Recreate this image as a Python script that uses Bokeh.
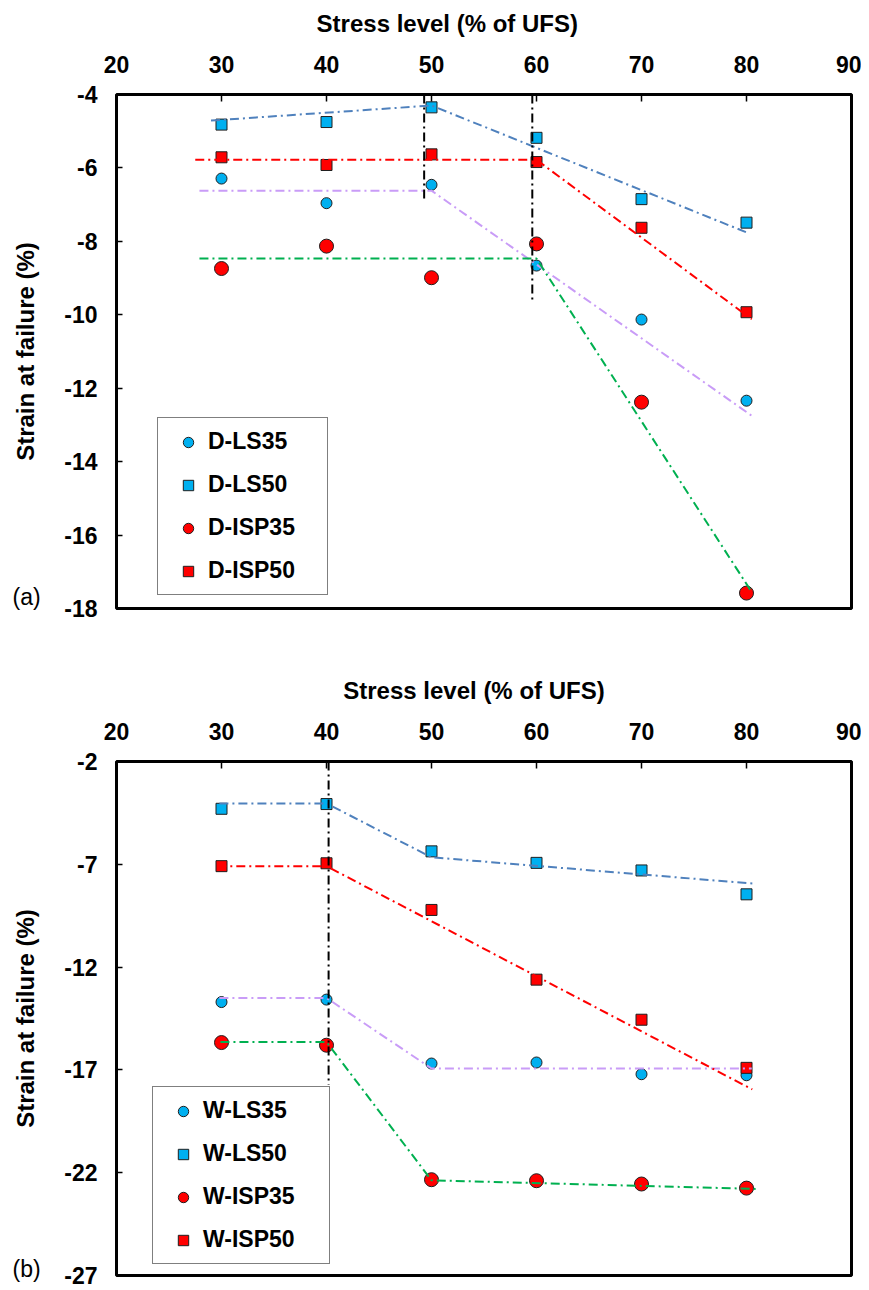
from bokeh.plotting import figure
from bokeh.models import Range1d, FixedTicker, Legend, LegendItem, Label
from bokeh.layouts import column
from bokeh.embed import file_html
from bokeh.resources import INLINE

# ---------------- data ----------------
stress = [30, 40, 50, 60, 70, 80]
x_ticks = [20, 30, 40, 50, 60, 70, 80, 90]
a_y_ticks = [-18, -16, -14, -12, -10, -8, -6, -4]
b_y_ticks = [-27, -22, -17, -12, -7, -2]

# panel (a): dry specimens
d_ls35 = [-6.29, -6.96, -6.46, -8.66, -10.13, -12.34]
d_ls50 = [-4.82, -4.75, -4.35, -5.18, -6.85, -7.49]
d_isp35 = [-8.74, -8.13, -8.99, -8.07, -12.38, -17.58]
d_isp50 = [-5.71, -5.92, -5.63, -5.84, -7.63, -9.93]

# panel (a): trend lines
d_ls35_fit_x = [27.9, 50, 80.5]
d_ls35_fit_y = [-6.62, -6.62, -12.75]
d_ls50_fit_x = [29.0, 50, 80.3]
d_ls50_fit_y = [-4.71, -4.30, -7.79]
d_isp35_fit_x = [27.9, 60, 80.4]
d_isp35_fit_y = [-8.47, -8.47, -17.51]
d_isp50_fit_x = [27.5, 60, 80.5]
d_isp50_fit_y = [-5.78, -5.78, -10.12]
a_vline_x = [49.3, 59.6]
a_vline_top = [-4.0, -4.0]
a_vline_end = [-6.93, -9.67]

# panel (b): wet specimens
w_ls35 = [-13.70, -13.58, -16.69, -16.64, -17.21, -17.26]
w_ls50 = [-4.30, -4.07, -6.37, -6.93, -7.30, -8.46]
w_isp35 = [-15.67, -15.80, -22.34, -22.39, -22.55, -22.75]
w_isp50 = [-7.09, -6.95, -9.22, -12.61, -14.56, -16.90]

# panel (b): trend lines
w_ls35_fit_x = [29.8, 40, 50, 80.5]
w_ls35_fit_y = [-13.50, -13.50, -16.93, -16.93]
w_ls50_fit_x = [29.8, 40, 50, 80.7]
w_ls50_fit_y = [-4.04, -4.04, -6.66, -7.94]
w_isp35_fit_x = [29.9, 40, 50, 81.0]
w_isp35_fit_y = [-15.64, -15.64, -22.37, -22.79]
w_isp50_fit_x = [29.6, 40, 80.55]
w_isp50_fit_y = [-7.09, -7.09, -17.95]
b_vline_x = [40.2]
b_vline_top = [-2.0]
b_vline_end = [-17.74]

# ---------------- style ----------------
FONT = "Liberation Sans"
C_BLUE = "#00B0F0"
C_RED = "#FF0000"
L_BLUE = "#4F81BD"
L_RED = "#FF0000"
L_PURPLE = "#C99CF7"
L_GREEN = "#00B050"
EDGE = "#1f1f1f"
DASH = "9 4 2 4"
NB = "\u00a0"


def make_fig(height, yr, yticks, min_top, min_bottom, xtitle):
    p = figure(width=861, height=height,
               x_range=Range1d(20, 90), y_range=Range1d(yr[0], yr[1]),
               x_axis_location="above",
               output_backend="svg", toolbar_location=None,
               min_border_left=116, min_border_right=10,
               min_border_top=min_top, min_border_bottom=min_bottom)
    p.grid.visible = False
    p.outline_line_color = "black"
    p.outline_line_width = 3
    p.background_fill_color = "white"
    p.border_fill_color = "white"

    xa = p.xaxis[0]
    xa.ticker = FixedTicker(ticks=x_ticks)
    xa.major_label_overrides = {t: str(t) for t in x_ticks}
    xa.axis_label = xtitle
    xa.axis_label_text_font = FONT
    xa.axis_label_text_font_style = "bold"
    xa.axis_label_text_font_size = "24px"
    xa.axis_label_text_color = "black"
    xa.axis_label_standoff = 16
    xa.major_label_text_font = FONT
    xa.major_label_text_font_style = "bold"
    xa.major_label_text_font_size = "23px"
    xa.major_label_text_color = "black"
    xa.major_label_standoff = 22
    xa.major_tick_in = 7
    xa.major_tick_out = 0
    xa.major_tick_line_color = "black"
    xa.major_tick_line_width = 1.5
    xa.minor_tick_line_color = None
    xa.axis_line_color = None

    ya = p.yaxis[0]
    ya.ticker = FixedTicker(ticks=yticks)
    ya.major_label_overrides = {t: str(t) for t in yticks}
    ya.axis_label = "Strain at failure (%)"
    ya.axis_label_text_font = FONT
    ya.axis_label_text_font_style = "bold"
    ya.axis_label_text_font_size = "24px"
    ya.axis_label_text_color = "black"
    ya.axis_label_standoff = 22
    ya.major_label_text_font = FONT
    ya.major_label_text_font_style = "bold"
    ya.major_label_text_font_size = "23px"
    ya.major_label_text_color = "black"
    ya.major_label_standoff = 19
    ya.major_tick_in = 6
    ya.major_tick_out = 0
    ya.major_tick_line_color = "black"
    ya.major_tick_line_width = 1.5
    ya.minor_tick_line_color = None
    ya.axis_line_color = None
    return p


def add_panel(p, series, fits, vlines, labels, legend_loc, label_width):
    (ls35, ls50, isp35, isp50) = series
    r1 = p.scatter(stress, ls35, marker="circle", size=11, fill_color=C_BLUE,
                   line_color=EDGE, line_width=1)
    r2 = p.scatter(stress, ls50, marker="square", size=11, fill_color=C_BLUE,
                   line_color=EDGE, line_width=1)
    r3 = p.scatter(stress, isp35, marker="circle", size=14, fill_color=C_RED,
                   line_color=EDGE, line_width=1)
    r4 = p.scatter(stress, isp50, marker="square", size=11, fill_color=C_RED,
                   line_color=EDGE, line_width=1)
    colors = [L_PURPLE, L_BLUE, L_GREEN, L_RED]
    for (fx, fy), c in zip(fits, colors):
        p.line(fx, fy, line_color=c, line_width=2, line_dash=DASH)
    vx, vtop, vend = vlines
    p.segment(x0=vx, y0=vtop, x1=vx, y1=vend, line_color="black",
              line_width=2, line_dash=DASH)

    items = [LegendItem(label=lab, renderers=[r]) for lab, r in zip(labels, [r1, r2, r3, r4])]
    leg = Legend(items=items, location=legend_loc,
                 label_text_font=FONT, label_text_font_style="bold",
                 label_text_font_size="23px", label_text_color="black",
                 glyph_width=40, glyph_height=26, label_height=26,
                 label_width=label_width, label_standoff=0,
                 spacing=16, padding=10, margin=0,
                 border_line_color="black", border_line_width=1.5,
                 background_fill_color="white", background_fill_alpha=1.0)
    p.add_layout(leg)


def tag_label(text, x, y):
    return Label(x=x, y=y, x_units="data", y_units="data", text=text,
                 text_font=FONT, text_font_size="23px", text_color="black",
                 text_align="left", text_baseline="middle")


pa = make_fig(638, (-18, -4), a_y_ticks, 94, 30,
              "Stress level (% of UFS)" + NB * 11)
add_panel(pa,
          (d_ls35, d_ls50, d_isp35, d_isp50),
          [(d_ls35_fit_x, d_ls35_fit_y), (d_ls50_fit_x, d_ls50_fit_y),
           (d_isp35_fit_x, d_isp35_fit_y), (d_isp50_fit_x, d_isp50_fit_y)],
          (a_vline_x, a_vline_top, a_vline_end),
          ["D-LS35", "D-LS50", "D-ISP35", "D-ISP50"],
          (41, 13), 109)
pa.add_layout(tag_label("(a)", 10.1, -17.70), "below")

pb = make_fig(650, (-27, -2), b_y_ticks, 123, 13,
              "Stress level (% of UFS)" + NB * 3)
add_panel(pb,
          (w_ls35, w_ls50, w_isp35, w_isp50),
          [(w_ls35_fit_x, w_ls35_fit_y), (w_ls50_fit_x, w_ls50_fit_y),
           (w_isp35_fit_x, w_isp35_fit_y), (w_isp50_fit_x, w_isp50_fit_y)],
          (b_vline_x, b_vline_top, b_vline_end),
          ["W-LS35", "W-LS50", "W-ISP35", "W-ISP50"],
          (36, 11), 116)
pb.add_layout(tag_label("(b)", 10.1, -26.7), "above")

layout = column(pa, pb, spacing=0)
open("out.html", "w").write(file_html(layout, INLINE))
